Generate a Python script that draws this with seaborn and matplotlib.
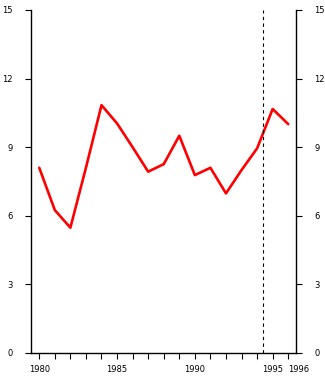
import matplotlib
matplotlib.use("Agg")
import matplotlib.pyplot as plt
import seaborn as sns
import pandas as pd

years = [1980, 1981, 1982, 1983, 1984, 1985, 1986, 1987, 1988,
         1989, 1990, 1991, 1992, 1993, 1994, 1995, 1996]
values = [8.10, 6.25, 5.48, 8.1, 10.84, 10.04, 9.0, 7.93, 8.26,
          9.50, 7.78, 8.10, 6.98, 8.0, 8.95, 10.67, 10.01]
marker_year = 1994.4
x_ticks = [1980, 1985, 1990, 1995, 1996]
y_ticks = [0, 3, 6, 9, 12, 15]

sns.set_style("ticks")
plt.rcParams['font.family'] = ['DejaVu Sans']

df = pd.DataFrame({"year": years, "value": values})

fig = plt.figure(figsize=(3.25, 3.81), dpi=100)
ax = fig.add_axes([31/325, 1-353/381, (296-31)/325, (353-10)/381])

sns.lineplot(data=df, x="year", y="value", ax=ax, color="#ff0000", linewidth=1.9)
ax.axvline(marker_year, color="black", linewidth=0.8, linestyle=(0, (3, 3)))

ax.set_xlim(1979.47, 1996.5)
ax.set_ylim(0, 15)
ax.set_xlabel("")
ax.set_ylabel("")

ax.set_xticks(x_ticks)
ax.set_xticks(list(range(1980, 1997)), minor=True)
ax.set_yticks(y_ticks)
ax.set_yticklabels([str(v) for v in y_ticks])
ax.set_xticklabels([str(v) for v in x_ticks])
labels = ax.get_xticklabels()
labels[-1].set_horizontalalignment("left")
labels[-2].set_horizontalalignment("center")

ax.tick_params(axis="both", which="both", direction="out", length=4, width=0.8,
               labelsize=6, color="black", labelcolor="black")
ax.tick_params(axis="x", which="both", pad=5)
ax.tick_params(axis="y", which="both", left=True, right=True, labelleft=True, labelright=True, pad=9)

for side in ["left", "right", "bottom"]:
    ax.spines[side].set_visible(True)
    ax.spines[side].set_color("black")
    ax.spines[side].set_linewidth(1.0)
ax.spines["top"].set_visible(False)

fig.savefig("out.png", dpi=100)
